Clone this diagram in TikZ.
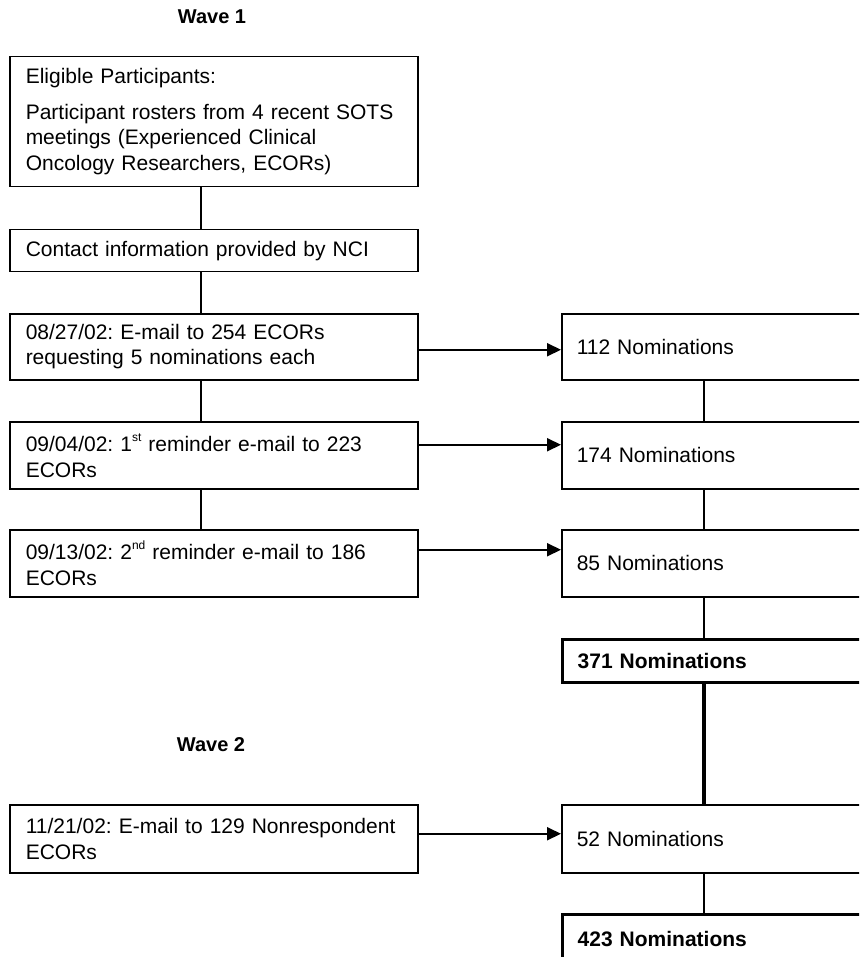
\documentclass[tikz,border=0pt]{standalone}
\usepackage{fontspec}
\setmainfont{Liberation Sans}
\usetikzlibrary{arrows.meta}
\frenchspacing

\newcommand\ordsup[1]{\raisebox{0.5em}{\fontsize{12}{12}\selectfont #1}}

\tikzset{
  stepbox/.style={draw, line width=1.5pt, anchor=north west, align=left,
    text width=376pt, inner xsep=16pt, inner ysep=0pt,
    font=\fontsize{21}{25.5}\selectfont},
  nombox/.style={stepbox, text width=330pt, inner xsep=15pt},
  totbox/.style={nombox, line width=3.3pt, font=\fontsize{21}{25.5}\selectfont\bfseries},
  wavelabel/.style={font=\fontsize{20}{24}\selectfont\bfseries},
  link/.style={line width=1.5pt},
  flow/.style={line width=2pt, -{Triangle[length=14pt,width=13pt]}}
}

\begin{document}
\begin{tikzpicture}[x=1pt, y=-1pt]

  \useasboundingbox (0,0) rectangle (859,957);
  \clip (0,0) rectangle (859,957);
  \coordinate (lcol) at (201,0);
  \coordinate (rcol) at (704,0);

  % wave 1
  \node[wavelabel] (wave1) at (212,17) {Wave 1};
  \node[stepbox, minimum height=130pt] (elig) at (9,56)
    {Eligible Participants:\\[10pt]
     Participant rosters from 4 recent SOTS\\
     meetings (Experienced Clinical\\
     Oncology Researchers, ECORs)};
  \node[stepbox, minimum height=42pt] (contact) at (9,229)
    {Contact information provided by NCI};
  \node[stepbox, minimum height=66pt] (mail1) at (9,313)
    {08/27/02: E-mail to 254 ECORs\\ requesting 5 nominations each};
  \node[stepbox, minimum height=67pt] (remind1) at (9,421)
    {09/04/02: 1\ordsup{st} reminder e-mail to 223\\ ECORs};
  \node[stepbox, minimum height=67pt] (remind2) at (9,529)
    {09/13/02: 2\ordsup{nd} reminder e-mail to 186\\ ECORs};

  \node[nombox, minimum height=66pt] (nom112) at (561,313) {112 Nominations};
  \node[nombox, minimum height=67pt] (nom174) at (561,421) {174 Nominations};
  \node[nombox, minimum height=67pt] (nom85) at (561,529) {85 Nominations};
  \node[totbox, minimum height=43pt] (tot371) at (561,638) {371 Nominations};

  % wave 2
  \node[wavelabel] (wave2) at (211,745) {Wave 2};
  \node[stepbox, minimum height=68pt] (mail2) at (9,804)
    {11/21/02: E-mail to 129 Nonrespondent\\ ECORs};
  \node[nombox, minimum height=68pt] (nom52) at (561,804) {52 Nominations};
  \node[totbox, minimum height=48pt] (tot423) at (561,913) {423 Nominations};

  \draw[link] (elig.south -| lcol) -- (contact.north -| lcol);
  \draw[link] (contact.south -| lcol) -- (mail1.north -| lcol);
  \draw[link] (mail1.south -| lcol) -- (remind1.north -| lcol);
  \draw[link] (remind1.south -| lcol) -- (remind2.north -| lcol);

  \draw[link] (nom112.south -| rcol) -- (nom174.north -| rcol);
  \draw[link] (nom174.south -| rcol) -- (nom85.north -| rcol);
  \draw[link] (nom85.south -| rcol) -- (tot371.north -| rcol);
  \draw[line width=3.3pt] (tot371.south -| rcol) -- (nom52.north -| rcol);
  \draw[link] (nom52.south -| rcol) -- (tot423.north -| rcol);

  \draw[flow] ([yshift=-3pt]mail1.east) -- ([yshift=-3pt]mail1.east -| nom112.west);
  \draw[flow] ([yshift=10.5pt]remind1.east) -- ([yshift=10.5pt]remind1.east -| nom174.west);
  \draw[flow] ([yshift=13.5pt]remind2.east) -- ([yshift=13.5pt]remind2.east -| nom85.west);
  \draw[flow] ([yshift=5pt]mail2.east) -- ([yshift=5pt]mail2.east -| nom52.west);

\end{tikzpicture}
\end{document}
